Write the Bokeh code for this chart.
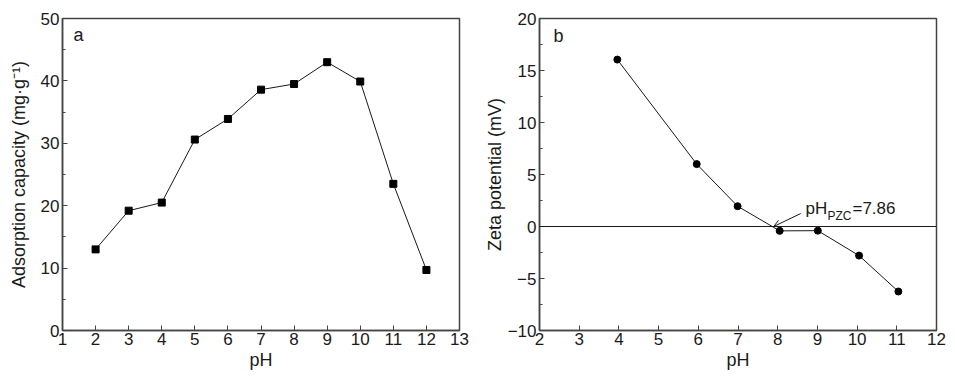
from bokeh.plotting import figure
from bokeh.layouts import row
from bokeh.models import FixedTicker, SingleIntervalTicker, Span, Label, Arrow, OpenHead, Range1d
from bokeh.embed import file_html
from bokeh.resources import INLINE

# Panel a: adsorption capacity vs pH
ph_a = [2, 3, 4, 5, 6, 7, 8, 9, 10, 11, 12]
capacity = [13.0, 19.2, 20.5, 30.6, 33.9, 38.6, 39.5, 43.0, 39.9, 23.5, 9.7]

# Panel b: zeta potential vs pH
ph_b = [3.96, 5.96, 6.99, 8.05, 9.01, 10.05, 11.04]
zeta = [16.05, 6.0, 1.95, -0.42, -0.4, -2.8, -6.25]

xticks_a = list(range(1, 14))
xticks_b = list(range(2, 13))
pzc_value = "7.86"

FONT = "Liberation Sans"
INK = "#1a1a1a"


def style(p):
    p.outline_line_color = "#444444"
    p.outline_line_width = 1.5
    p.grid.visible = False
    p.background_fill_color = "white"
    p.border_fill_color = "white"
    for ax in (p.xaxis[0], p.yaxis[0]):
        ax.axis_line_color = "#444444"
        ax.axis_line_width = 1.5
        ax.major_tick_in = 5
        ax.major_tick_out = 0
        ax.minor_tick_in = 3
        ax.minor_tick_out = 0
        ax.major_tick_line_color = "#444444"
        ax.minor_tick_line_color = "#444444"
        ax.major_label_text_font = FONT
        ax.major_label_text_font_size = "17px"
        ax.major_label_text_color = INK
        ax.axis_label_text_font = FONT
        ax.axis_label_text_font_size = "18px"
        ax.axis_label_text_font_style = "normal"
        ax.axis_label_text_color = INK
    p.xaxis.major_label_standoff = 2
    p.yaxis.major_label_standoff = 3
    p.xaxis.axis_label_standoff = 2
    p.xaxis.minor_tick_line_color = None


# ---------- panel a ----------
pa = figure(width=480, height=375, output_backend="svg", toolbar_location=None,
            x_range=Range1d(1, 13), y_range=Range1d(0, 50),
            min_border_left=62, min_border_right=21, min_border_top=18, min_border_bottom=45)
style(pa)
pa.xaxis.ticker = FixedTicker(ticks=xticks_a)
pa.yaxis.ticker = SingleIntervalTicker(interval=10, num_minor_ticks=2)
pa.xaxis.axis_label = "pH"
pa.yaxis.axis_label = "Adsorption capacity (mg·g⁻¹)"
pa.yaxis.axis_label_standoff = 9
pa.line(ph_a, capacity, line_color=INK, line_width=1)
pa.scatter(ph_a, capacity, marker="square", size=7, fill_color="black", line_color="black")
pa.add_layout(Label(x=1.33, y=47.3, text="a", text_font=FONT, text_font_size="18px",
                    text_baseline="middle", text_color=INK))

# ---------- panel b ----------
pb = figure(width=467, height=375, output_backend="svg", toolbar_location=None,
            x_range=Range1d(2, 12), y_range=Range1d(-10, 20),
            min_border_left=59, min_border_right=11, min_border_top=18, min_border_bottom=45)
style(pb)
pb.xaxis.ticker = FixedTicker(ticks=xticks_b)
pb.yaxis.ticker = SingleIntervalTicker(interval=5, num_minor_ticks=2)
pb.yaxis.major_label_overrides = {-10: "−10", -5: "−5"}
pb.xaxis.axis_label = "pH"
pb.yaxis.axis_label = "Zeta potential (mV)"
pb.yaxis.axis_label_standoff = 0
pb.add_layout(Span(location=0, dimension="width", line_color=INK, line_width=1))
pb.line(ph_b, zeta, line_color=INK, line_width=1)
pb.scatter(ph_b, zeta, marker="circle", size=7, fill_color="black", line_color="black")
pb.add_layout(Label(x=2.35, y=18.3, text="b", text_font=FONT, text_font_size="18px",
                    text_baseline="middle", text_color=INK))

# annotation pH_PZC = 7.86
pb.add_layout(Arrow(end=OpenHead(size=7, line_color=INK, line_width=1),
                    x_start=8.58, y_start=1.25, x_end=7.9, y_end=0.0,
                    line_color=INK, line_width=1))
pb.add_layout(Label(x=8.70, y=1.72, text="pH", text_font=FONT, text_font_size="17px",
                    text_baseline="alphabetic", text_color=INK))
pb.add_layout(Label(x=8.70, y=1.72, x_offset=22, y_offset=-7, text="PZC", text_font=FONT,
                    text_font_size="12px", text_baseline="alphabetic", text_color=INK))
pb.add_layout(Label(x=8.70, y=1.72, x_offset=47, text="=" + pzc_value, text_font=FONT,
                    text_font_size="17px", text_baseline="alphabetic", text_color=INK))

layout = row(pa, pb, spacing=0)
open("out.html", "w").write(file_html(layout, INLINE))
